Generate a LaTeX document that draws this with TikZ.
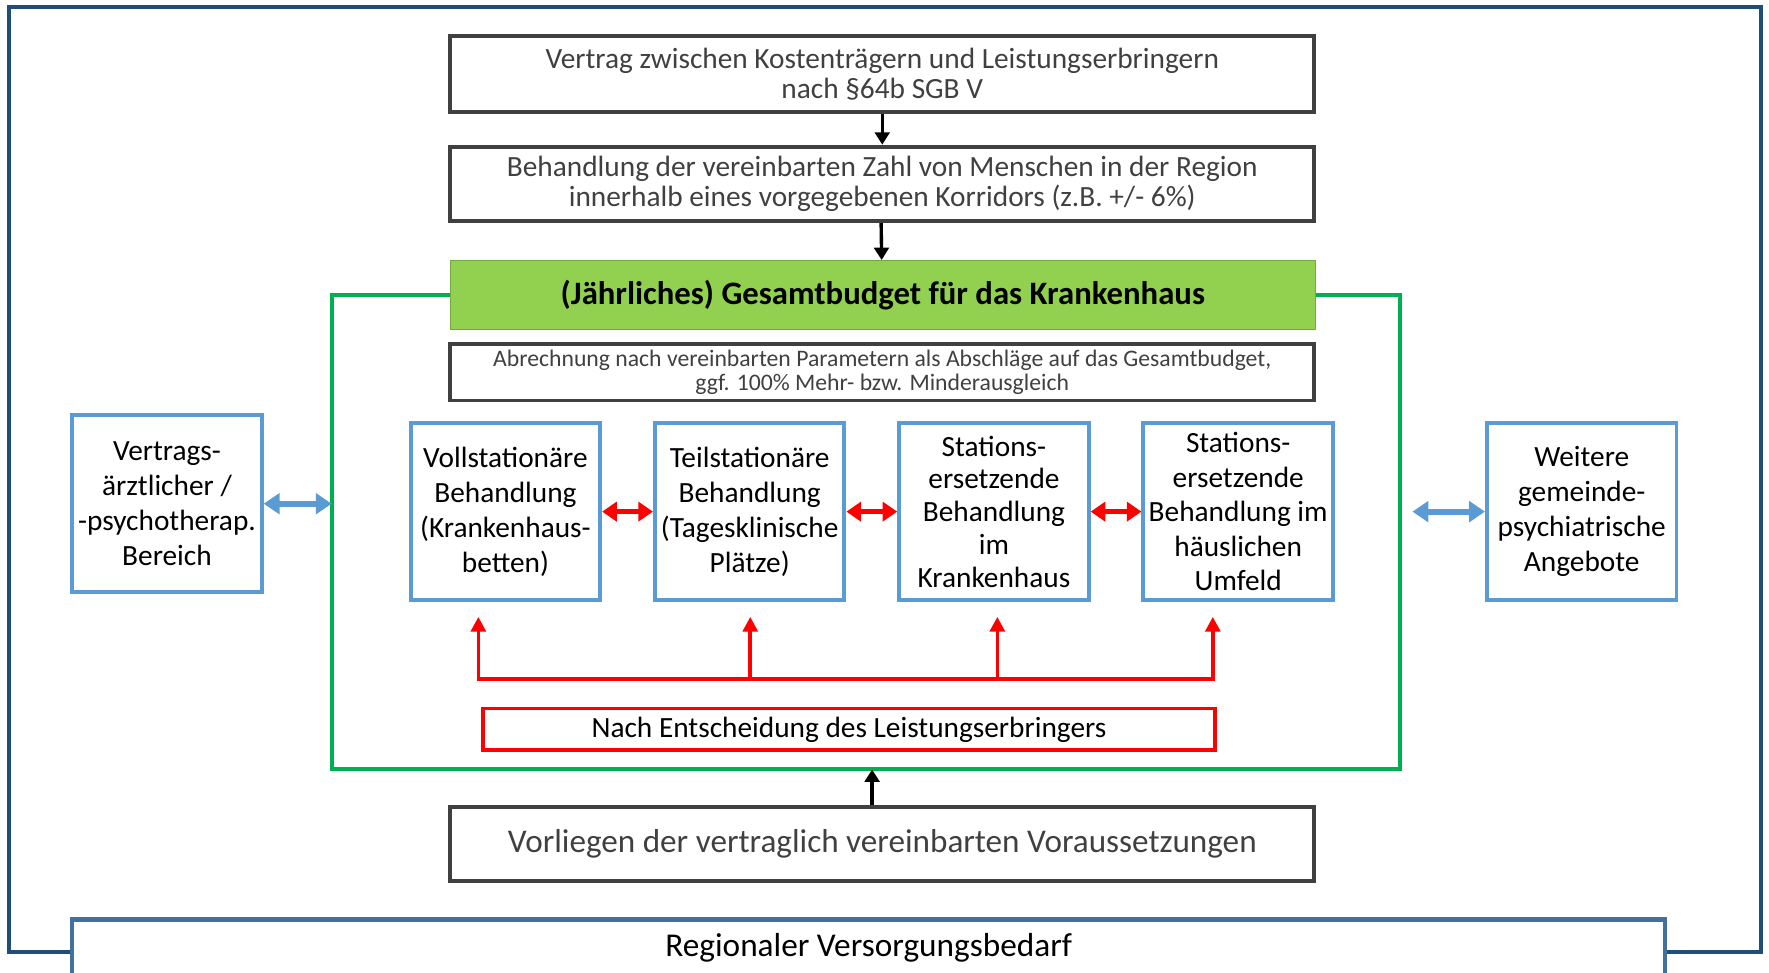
\documentclass[tikz,border=0pt]{standalone}
\usepackage{fontspec}
\setmainfont{Carlito}
\usetikzlibrary{arrows.meta,calc}
\definecolor{outerblue}{HTML}{1F4E79}
\definecolor{botblue}{HTML}{41719C}
\definecolor{boxgrey}{HTML}{404040}
\definecolor{accblue}{HTML}{5B9BD5}
\definecolor{lgreen}{HTML}{00B050}
\definecolor{fgreen}{HTML}{92D050}
\definecolor{dgreen}{HTML}{74A93F}
\definecolor{accred}{HTML}{FF0000}
\begin{document}
\begin{tikzpicture}[x=1pt,y=-1pt,
  greybox/.style={draw=boxgrey, line width=3.5pt, inner sep=0pt, align=center, text=boxgrey, minimum width=766pt},
  bluebox/.style={draw=accblue, line width=3.5pt, inner sep=0pt, align=center, text=black, minimum width=168pt, minimum height=157pt, font=\fontsize{26}{31}\selectfont},
  blackarrow/.style={draw=black, line width=3pt, -{Triangle[width=13pt,length=11pt]}},
  bluearrow/.style={draw=accblue, line width=5.5pt, {Triangle[width=18pt,length=14pt]}-{Triangle[width=18pt,length=14pt]}},
  redda/.style={draw=accred, line width=4.5pt, {Triangle[width=17pt,length=13pt]}-{Triangle[width=17pt,length=13pt]}},
  redline/.style={draw=accred, line width=3.2pt},
  redarrow/.style={draw=accred, line width=3.2pt, -{Triangle[width=13pt,length=13pt]}, shorten >=13pt},
  greenline/.style={draw=lgreen, line width=3.5pt},
  outerline/.style={draw=outerblue, line width=4pt}
]
\useasboundingbox (0,0) rectangle (1568,862);

% top chain
\node[greybox, minimum height=67pt, font=\fontsize{26}{26.5}\selectfont] (b1) at (782,65.5)
  {Vertrag zwischen Kostenträgern und Leistungserbringern\\nach §64b SGB V};
\node[greybox, minimum height=66pt, font=\fontsize{26}{26.5}\selectfont] (b2) at (782,163)
  {Behandlung der vereinbarten Zahl von Menschen in der Region\\innerhalb eines vorgegebenen Korridors (z.B. +/- 6\%)};
\node[draw=dgreen, fill=fgreen, line width=1pt, inner sep=0pt, minimum width=767pt, minimum height=61pt,
  font=\bfseries\fontsize{29}{32}\selectfont] (gb) at (782.5,261.5)
  {(Jährliches) Gesamtbudget für das Krankenhaus};
\node[greybox, minimum height=50pt, font=\fontsize{21}{22}\selectfont] (abr) at (782,330)
  {Abrechnung nach vereinbarten Parametern als Abschläge auf das Gesamtbudget,\\ggf. 100\% Mehr- bzw. Minderausgleich};
\node[greybox, minimum height=66pt, font=\fontsize{29.4}{32}\selectfont] (vorl) at (782,748)
  {Vorliegen der vertraglich vereinbarten Voraussetzungen};

\draw[blackarrow] (b1.south) -- (b2.north);
\draw[blackarrow] ([xshift=-1pt]b2.south) -- ([xshift=-1pt]gb.north);

% green frame
\coordinate (gfl) at (294,682);
\coordinate (gfr) at (1241,682);
\draw[greenline] (gb.west) -| (gfl) -- (gfr) |- (gb.east);
\draw[blackarrow] ([xshift=-9pt]vorl.north) -- ([xshift=-9pt]vorl.north |- gfl);

% blue boxes
\node[bluebox] (vertr) at (148,446.5) {Vertrags-\\ärztlicher /\\-psychotherap.\\Bereich};
\node[bluebox] (voll) at (448,453.5) {Vollstationäre\\Behandlung\\(Krankenhaus-\\betten)};
\node[bluebox] (teil) at (664.5,453.5) {Teilstationäre\\Behandlung\\(Tagesklinische\\Plätze)};
\node[bluebox, font=\fontsize{26}{29}\selectfont] (st1) at (881,453.5) {Stations-\\ersetzende\\Behandlung\\im\\Krankenhaus};
\node[bluebox, font=\fontsize{26}{30.5}\selectfont] (st2) at (1097.5,453.5) {Stations-\\ersetzende\\Behandlung im\\häuslichen\\Umfeld};
\node[bluebox] (weit) at (1402,453.5) {Weitere\\gemeinde-\\psychiatrische\\Angebote};

\draw[bluearrow] (vertr.east) -- (vertr.east -| gfl);
\draw[bluearrow, shorten <=11pt] (weit.west -| gfr) -- (weit.west);
\draw[redda] (voll.east) -- (teil.west);
\draw[redda] (teil.east) -- (st1.west);
\draw[redda] (st1.east) -- (st2.west);

% red decision tree
\coordinate (r1) at (424,602);
\coordinate (r2) at (665,602);
\coordinate (r3) at (884,602);
\coordinate (r4) at (1075,602);
\draw[redline] ([xshift=-1.6pt]r1) -- ([xshift=1.6pt]r4);
\draw[redarrow] (r1) -- (r1 |- voll.south);
\draw[redarrow] (r2) -- (r2 |- teil.south);
\draw[redarrow] (r3) -- (r3 |- st1.south);
\draw[redarrow] (r4) -- (r4 |- st2.south);
\node[draw=accred, line width=3.5pt, inner sep=0pt, minimum width=649pt, minimum height=37pt,
  font=\fontsize{26}{28}\selectfont] (rbox) at (752.5,646.5) {Nach Entscheidung des Leistungserbringers};

% regional frame
\node[draw=botblue, line width=4pt, inner sep=0pt, minimum width=1412pt, minimum height=50pt,
  font=\fontsize{29.5}{32}\selectfont] (bot) at (770,840) {Regionaler Versorgungsbedarf};
\coordinate (obl) at (8,844);
\coordinate (otl) at (8,6);
\coordinate (otr) at (1561,6);
\coordinate (obr) at (1561,844);
\draw[outerline] (bot.west |- obl) -- (obl) -- (otl) -- (otr) -- (obr) -- (bot.east |- obr);
\end{tikzpicture}
\end{document}
